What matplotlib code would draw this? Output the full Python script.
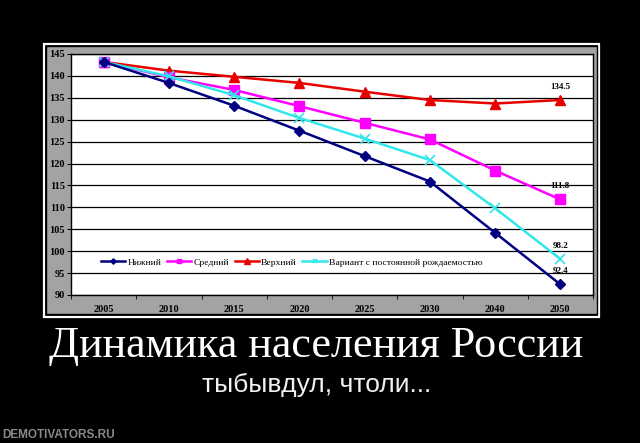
import matplotlib
matplotlib.use("Agg")
import matplotlib.pyplot as plt
from matplotlib.patches import Rectangle

years = ["2005", "2010", "2015", "2020", "2025", "2030", "2040", "2050"]
low = [143.2, 138.4, 133.2, 127.5, 121.7, 115.9, 104.2, 92.4]
mid = [143.2, 139.7, 136.8, 133.1, 129.3, 125.5, 118.4, 111.8]
high = [143.2, 141.2, 139.8, 138.4, 136.4, 134.5, 133.7, 134.5]
const = [143.2, 139.9, 135.6, 130.4, 125.7, 120.8, 109.8, 98.2]
series_names = ["Нижний", "Средний", "Верхний", "Вариант с постоянной рождаемостью"]
yticks = [90, 95, 100, 105, 110, 115, 120, 125, 130, 135, 140, 145]
title = "Динамика населения России"
subtitle = "тыбывдул, чтоли..."
site = "DEMOTIVATORS.RU"

W, H = 640, 443
fig = plt.figure(figsize=(W / 100, H / 100), dpi=100, facecolor="black")

bg = fig.add_axes([0, 0, 1, 1])
bg.set_xlim(0, W)
bg.set_ylim(H, 0)
bg.axis("off")
bg.set_facecolor("black")
bg.add_patch(Rectangle((43.5, 43.5), 555.5, 273, fill=False, edgecolor="white", lw=1.6))
bg.add_patch(Rectangle((46, 46), 551, 267.5, facecolor="#a3a3a3", edgecolor="black", lw=1))

bg.text(316, 346, title, color="white", ha="center", va="center",
        fontsize=31.8, family="Liberation Serif")
bg.text(317, 385, subtitle, color="#f0f0f0", ha="center", va="center",
        fontsize=19, family="Liberation Sans")
bg.text(2, 435, site, color="#8a8a8a", ha="left", va="center",
        fontsize=8.5, family="Liberation Sans", fontweight="bold")

left, right, top, bottom = 71, 593, 54, 295
ax = fig.add_axes([left / W, 1 - bottom / H, (right - left) / W, (bottom - top) / H])
ax.set_facecolor("white")
x = list(range(len(years)))

ax.plot(x, low, color="#000080", lw=1.8, marker="D", ms=5.5, label=series_names[0], zorder=5)
ax.plot(x, mid, color="#ff00ff", lw=1.8, marker="s", ms=7, label=series_names[1], zorder=4)
ax.plot(x, high, color="#e80000", lw=1.8, marker="^", ms=7.5, label=series_names[2], zorder=3)
ax.plot(x, const, color="#33e6ea", lw=1.8, marker="x", ms=6.5, mew=1.2, label=series_names[3], zorder=4)

for vals in (high, mid, const, low):
    ax.annotate(f"{vals[-1]:.1f}", (x[-1], vals[-1]), xytext=(0, 6.5), textcoords="offset points",
                ha="center", va="bottom", fontsize=6.5, fontweight="bold", family="Liberation Serif")

ax.set_xlim(-0.5, len(years) - 0.5)
ax.set_ylim(90, 145)
ax.set_yticks(yticks)
ax.set_yticklabels([str(v) for v in yticks])
ax.set_xticks(x)
ax.set_xticklabels(years)
ax.set_xticks([i + 0.5 for i in range(-1, len(years))], minor=True)
ax.tick_params(axis="x", which="major", length=0, pad=7)
ax.tick_params(axis="x", which="minor", length=3, direction="out")
ax.tick_params(axis="y", length=3, direction="out", pad=1.5)
for lab in ax.get_xticklabels() + ax.get_yticklabels():
    lab.set_fontsize(7.5)
    lab.set_fontweight("bold")
    lab.set_family("Liberation Serif")
ax.yaxis.grid(True, color="black", lw=0.9)
ax.set_axisbelow(True)
for s in ax.spines.values():
    s.set_color("black")
    s.set_linewidth(1)

leg = ax.legend(loc="center left", bbox_to_anchor=(0.05, 0.135), ncol=4, frameon=False,
                handlelength=2.6, handletextpad=0.2, columnspacing=0.6, borderaxespad=0,
                prop={"family": "Liberation Serif", "size": 6.8}, markerscale=0.5)

fig.savefig("out.png", dpi=100, facecolor="black")
